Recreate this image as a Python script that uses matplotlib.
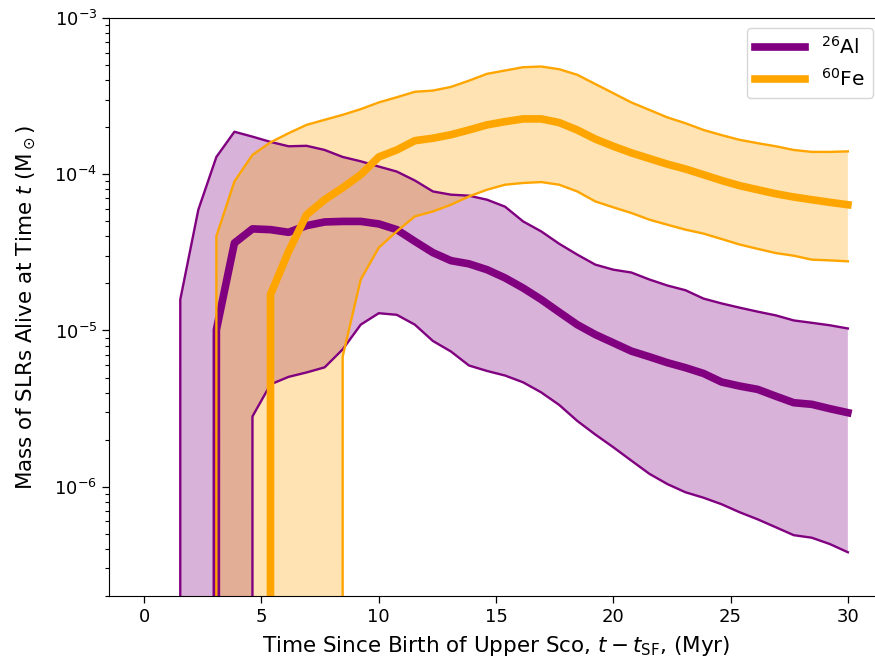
import matplotlib
matplotlib.use("Agg")
import matplotlib.pyplot as plt
import numpy as np

# time grid (Myr since star formation)
t = np.linspace(0, 30, 40)

# 26Al mass alive: lower bound, median, upper bound (Msun)
al_lo = [0, 0, 0, 0, 0, 0, 2.82e-6, 4.52e-6, 5.05e-6, 5.39e-6,
         5.81e-6, 7.57e-6, 1.09e-5, 1.29e-5, 1.26e-5, 1.09e-5, 8.57e-6, 7.34e-6, 5.97e-6, 5.51e-6,
         5.15e-6, 4.66e-6, 4.02e-6, 3.34e-6, 2.64e-6, 2.16e-6, 1.79e-6, 1.47e-6, 1.21e-6, 1.04e-6,
         9.22e-7, 8.51e-7, 7.73e-7, 6.87e-7, 6.19e-7, 5.51e-7, 4.90e-7, 4.72e-7, 4.30e-7, 3.81e-7]
al_med = [0, 0, 0, 0, 1.01e-5, 3.63e-5, 4.47e-5, 4.42e-5, 4.25e-5, 4.69e-5,
          4.95e-5, 4.99e-5, 4.99e-5, 4.81e-5, 4.42e-5, 3.72e-5, 3.15e-5, 2.80e-5, 2.67e-5, 2.45e-5,
          2.17e-5, 1.87e-5, 1.58e-5, 1.31e-5, 1.09e-5, 9.42e-6, 8.34e-6, 7.38e-6, 6.79e-6, 6.22e-6,
          5.78e-6, 5.31e-6, 4.68e-6, 4.41e-6, 4.20e-6, 3.80e-6, 3.45e-6, 3.37e-6, 3.16e-6, 2.98e-6]
al_hi = [0, 0, 1.58e-5, 5.93e-5, 1.29e-4, 1.87e-4, 1.74e-4, 1.61e-4, 1.51e-4, 1.52e-4,
         1.43e-4, 1.29e-4, 1.21e-4, 1.12e-4, 1.04e-4, 9.12e-5, 7.76e-5, 7.40e-5, 7.29e-5, 6.87e-5,
         6.20e-5, 4.99e-5, 4.31e-5, 3.59e-5, 3.06e-5, 2.64e-5, 2.45e-5, 2.35e-5, 2.12e-5, 1.94e-5,
         1.81e-5, 1.60e-5, 1.49e-5, 1.40e-5, 1.32e-5, 1.25e-5, 1.16e-5, 1.12e-5, 1.08e-5, 1.03e-5]

# 60Fe mass alive
fe_lo = [0, 0, 0, 0, 0, 0, 0, 0, 0, 0,
         0, 6.82e-6, 2.12e-5, 3.39e-5, 4.31e-5, 5.37e-5, 5.78e-5, 6.38e-5, 7.21e-5, 7.96e-5,
         8.57e-5, 8.79e-5, 8.91e-5, 8.57e-5, 7.76e-5, 6.70e-5, 6.14e-5, 5.65e-5, 5.12e-5, 4.75e-5,
         4.42e-5, 4.17e-5, 3.85e-5, 3.55e-5, 3.33e-5, 3.13e-5, 3.01e-5, 2.84e-5, 2.81e-5, 2.77e-5]
fe_med = [0, 0, 0, 0, 0, 0, 0, 1.70e-5, 3.20e-5, 5.51e-5,
          6.87e-5, 8.20e-5, 9.93e-5, 1.29e-4, 1.43e-4, 1.64e-4, 1.70e-4, 1.79e-4, 1.92e-4, 2.07e-4,
          2.17e-4, 2.26e-4, 2.26e-4, 2.14e-4, 1.92e-4, 1.68e-4, 1.51e-4, 1.37e-4, 1.26e-4, 1.16e-4,
          1.08e-4, 9.93e-5, 9.12e-5, 8.45e-5, 7.96e-5, 7.50e-5, 7.15e-5, 6.87e-5, 6.61e-5, 6.38e-5]
fe_hi = [0, 0, 0, 0, 4.01e-5, 8.99e-5, 1.33e-4, 1.60e-4, 1.83e-4, 2.07e-4,
         2.23e-4, 2.40e-4, 2.61e-4, 2.88e-4, 3.11e-4, 3.37e-4, 3.43e-4, 3.62e-4, 3.97e-4, 4.39e-4,
         4.61e-4, 4.84e-4, 4.89e-4, 4.70e-4, 4.33e-4, 3.78e-4, 3.30e-4, 2.88e-4, 2.58e-4, 2.31e-4,
         2.12e-4, 1.92e-4, 1.78e-4, 1.66e-4, 1.58e-4, 1.51e-4, 1.43e-4, 1.39e-4, 1.39e-4, 1.40e-4]

species = [
    (r'$^{26}$Al', 'purple', al_lo, al_med, al_hi),
    (r'$^{60}$Fe', 'orange', fe_lo, fe_med, fe_hi),
]

fig = plt.figure(figsize=(8.75, 6.68), dpi=100)
ax = fig.add_axes([0.1246, 0.1078, 0.8846, 0.8653])

for label, c, lo, med, hi in species:
    ax.fill_between(t, lo, hi, color=c, alpha=0.3, lw=0)
    ax.plot(t, lo, color=c, lw=1.7)
    ax.plot(t, hi, color=c, lw=1.7)
    ax.plot(t, med, color=c, lw=5.5, label=label)

ax.set_yscale('log')
ax.set_xlim(-1.5, 31.5)
ax.set_ylim(2e-7, 1e-3)
ax.set_xlabel(r'Time Since Birth of Upper Sco, $t - t_{\rm SF}$, (Myr)', fontsize=15.5, labelpad=6)
ax.set_ylabel(r'Mass of SLRs Alive at Time $t$ (M$_\odot$)', fontsize=15.5, labelpad=12)
ax.tick_params(which='major', labelsize=13, length=5, width=0.9)
ax.tick_params(which='minor', length=3, width=0.8)
ax.legend(loc='upper right', fontsize=14.5, handlelength=2.5)

fig.savefig('out.png', dpi=100)
